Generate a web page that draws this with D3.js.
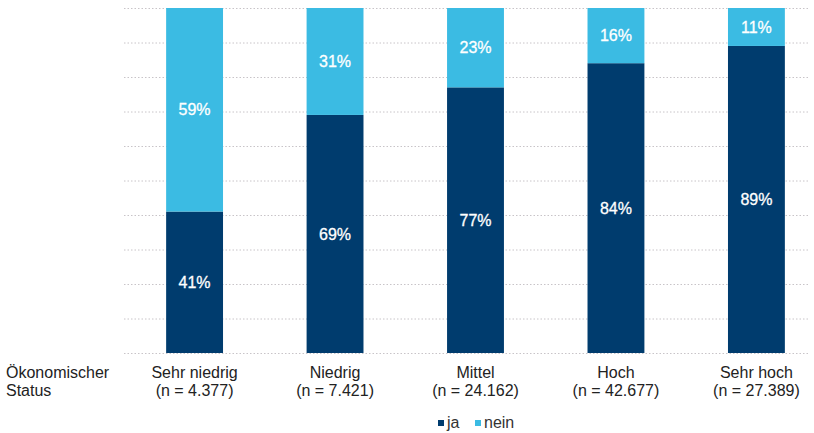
<!DOCTYPE html>
<html>
<head>
<meta charset="utf-8">
<script src="https://cdn.jsdelivr.net/npm/d3@7"></script>
<style>
  body { margin: 0; background: #fff; }
  svg { font-family: "Liberation Sans", Arial, sans-serif; }
</style>
</head>
<body>
<svg id="chart" width="814" height="433"></svg>
<script>
// Chart data
var categories = ["Sehr niedrig", "Niedrig", "Mittel", "Hoch", "Sehr hoch"]
var sampleSizes = ["4.377", "7.421", "24.162", "42.677", "27.389"]
var jaValues = [41, 69, 77, 84, 89]
var neinValues = [59, 31, 23, 16, 11]
var seriesNames = ["ja", "nein"]
var gridTicks = [0, 10, 20, 30, 40, 50, 60, 70, 80, 90, 100]

var colors = { ja: "#003c6e", nein: "#3bbbe3" }

// build rows for the stack
var rows = categories.map(function (c, i) {
    return { cat: c, ja: jaValues[i], nein: neinValues[i] }
})

const svg = d3.select("#chart")

const xScale = d3.scaleBand()
    .domain(categories)
    .range([124, 827])
    .paddingInner(0.595)
    .paddingOuter(0.3)

const yScale = d3.scaleLinear()
    .domain([0, 100])
    .range([353, 8])

// dotted gridlines
svg.append("g")
    .selectAll("line")
    .data(gridTicks)
    .enter().append("line")
    .attr("x1", 124)
    .attr("x2", 808)
    .attr("y1", d => yScale(d) + 0.5)
    .attr("y2", d => yScale(d) + 0.5)
    .attr("stroke", "#c8c4c8")
    .attr("stroke-width", 1)
    .attr("stroke-dasharray", "1.5,2")

// stacked bars
const stack = d3.stack().keys(seriesNames)
const layers = stack(rows)

const layer = svg.selectAll("g.layer")
    .data(layers)
    .enter().append("g")
    .attr("class", "layer")
    .attr("fill", d => colors[d.key])

layer.selectAll("rect")
    .data(d => d)
    .enter().append("rect")
    .attr("x", d => xScale(d.data.cat))
    .attr("width", xScale.bandwidth())
    .attr("y", d => yScale(d[1]))
    .attr("height", d => yScale(d[0]) - yScale(d[1]))

// value labels inside segments
layer.selectAll("text")
    .data(d => d)
    .enter().append("text")
    .attr("x", d => xScale(d.data.cat) + xScale.bandwidth() / 2)
    .attr("y", d => (yScale(d[0]) + yScale(d[1])) / 2)
    .attr("dy", "0.35em")
    .attr("text-anchor", "middle")
    .attr("fill", "#ffffff")
    .attr("font-size", "16px")
    .attr("stroke", "#ffffff")
    .attr("stroke-width", 0.3)
    .text(d => (d[1] - d[0]) + "%")

// category labels
const xAxis = svg.append("g")
categories.forEach(function (c, i) {
    const cx = xScale(c) + xScale.bandwidth() / 2
    const t = xAxis.append("text")
        .attr("x", cx)
        .attr("y", 378)
        .attr("text-anchor", "middle")
        .attr("fill", "#222")
        .attr("font-size", "16px")
    t.append("tspan").attr("x", cx).text(c)
    t.append("tspan").attr("x", cx).attr("dy", 18).text("(n = " + sampleSizes[i] + ")")
})

// axis title on the left
const title = svg.append("text")
    .attr("x", 6)
    .attr("y", 378)
    .attr("fill", "#222")
    .attr("font-size", "16px")
title.append("tspan").attr("x", 6).text("Ökonomischer")
title.append("tspan").attr("x", 6).attr("dy", 18).text("Status")

// legend
const legend = svg.append("g")
const legendX = [438, 475]
seriesNames.forEach(function (s, i) {
    legend.append("rect")
        .attr("x", legendX[i])
        .attr("y", 420)
        .attr("width", 6)
        .attr("height", 6)
        .attr("fill", colors[s])
    legend.append("text")
        .attr("x", legendX[i] + 9)
        .attr("y", 428)
        .attr("fill", "#333")
        .attr("font-size", "16px")
        .text(s)
})
</script>
</body>
</html>
